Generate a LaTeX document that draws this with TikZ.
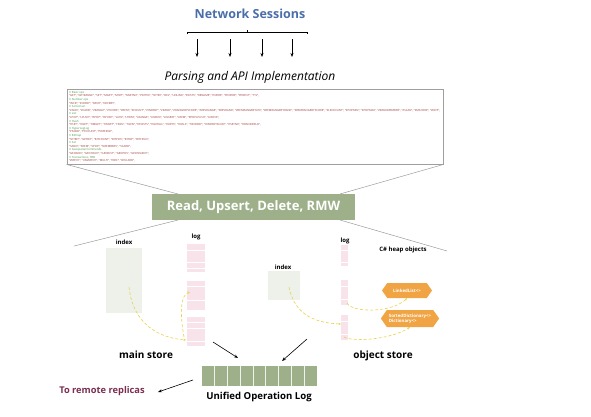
\documentclass[tikz,border=0pt]{standalone}
\usepackage{fontspec}
\setmainfont{Open Sans}
\usetikzlibrary{shapes.symbols,arrows.meta,calc}
\definecolor{netblue}{HTML}{4A6EAA}
\definecolor{opgreen}{HTML}{9DB08A}
\definecolor{idxgray}{HTML}{EDF1EA}
\definecolor{logpink}{HTML}{F7E3E9}
\definecolor{heaporange}{HTML}{F0A444}
\definecolor{ptryellow}{HTML}{E8D250}
\definecolor{replica}{HTML}{7A2E50}
\definecolor{cmtgreen}{HTML}{3C9A3C}
\definecolor{strred}{HTML}{A33A3A}
\definecolor{zoomgray}{HTML}{9A9A9A}
\newcommand{\cmtline}[1]{\textcolor{cmtgreen}{#1}\\}
\newcommand{\strline}[1]{\textcolor{strred}{#1}\\}
\begin{document}
\begin{tikzpicture}[x=1pt,y=-1pt,
  title/.style={font=\bfseries\fontsize{12.5}{14}\selectfont, text=netblue, inner sep=0},
  subtitle/.style={font=\itshape\fontsize{12}{14}\selectfont, inner sep=0},
  lbl/.style={font=\bfseries\fontsize{10}{12}\selectfont, inner sep=0},
  small/.style={font=\bfseries\fontsize{6}{7}\selectfont, inner sep=0},
  blackarrow/.style={-{Stealth[length=4pt,width=3pt]}, line width=0.6pt},
  zoomline/.style={draw=zoomgray, line width=0.5pt},
  idxbox/.style={fill=idxgray, draw=none, inner sep=0},
  logseg/.style={fill=logpink, draw=none, inner sep=0},
  heap/.style={shape=signal, signal to=east and west, signal pointer angle=110, fill=heaporange, text=white, draw=none, inner xsep=2pt, inner ysep=0pt, font=\bfseries\fontsize{4.4}{5.2}\selectfont, align=left},
  ptr/.style={draw=ptryellow, densely dashed, line width=0.6pt, -{Stealth[length=2.5pt,width=2.2pt]}}
]
\useasboundingbox (0,0) rectangle (591,416);

% title and session arrows
\node[title] (net) at (250,14) {Network Sessions};
\draw[line width=0.5pt] (187,34) -- (187,32) -- (307,32) -- (307,34);
\draw[line width=0.5pt] (247,32) -- (247,30);
\foreach \i/\x in {1/197,2/230,3/262,4/292}{
  \coordinate (s\i) at (\x,39);
  \coordinate (t\i) at (\x,57);
  \draw[blackarrow] (s\i) -- (t\i);
}
\node[subtitle] (parse) at (250,77) {Parsing and API Implementation};

% code box
\node[draw=gray!75, line width=0.9pt, fill=white, minimum width=376pt, minimum height=75pt, inner sep=0] (codebox) at (255,126.5) {};
\node[anchor=north west, inner sep=0, align=left, font=\fontsize{2.8}{3.6}\selectfont] (code) at (69,91) {%
\cmtline{// Basic ops}
\strline{"GET", "GETRANGE", "SET", "MGET", "MSET", "MSETNX", "PSETEX", "SETEX", "DEL", "UNLINK", "EXISTS", "RENAME", "EXPIRE", "PEXPIRE", "PERSIST", "TTL",}
\cmtline{// Number ops}
\strline{"INCR", "INCRBY", "DECR", "DECRBY",}
\cmtline{// Sorted set}
\strline{"ZADD", "ZCARD", "ZRANGE", "ZSCORE", "ZREM", "ZCOUNT", "ZINCRBY", "ZRANK", "ZRANGEBYSCORE", "ZREVRANGE", "ZREVRANK", "ZREMRANGEBYLEX", "ZREMRANGEBYRANK", "ZREMRANGEBYSCORE", "ZLEXCOUNT", "ZPOPMIN", "ZPOPMAX", "ZRANDMEMBER", "ZSCAN", "ZMSCORE", "ZDIFF",}
\cmtline{// List}
\strline{"LPOP", "LPUSH", "RPOP", "RPUSH", "LLEN", "LTRIM", "LRANGE", "LINDEX", "LINSERT", "LREM", "RPOPLPUSH", "LMOVE",}
\cmtline{// Hash}
\strline{"HSET", "HGET", "HMGET", "HMSET", "HDEL", "HLEN", "HEXISTS", "HGETALL", "HKEYS", "HVALS", "HINCRBY", "HINCRBYFLOAT", "HSETNX", "HRANDFIELD",}
\cmtline{// HyperLogLog}
\strline{"PFADD", "PFCOUNT", "PFMERGE",}
\cmtline{// Bitmap}
\strline{"SETBIT", "GETBIT", "BITCOUNT", "BITPOS", "BITOP", "BITFIELD",}
\cmtline{// Set}
\strline{"SADD", "SREM", "SPOP", "SMEMBERS", "SCARD",}
\cmtline{// Geospatial Commands}
\strline{"GEOADD", "GEOHASH", "GEODIST", "GEOPOS", "GEOSEARCH",}
\cmtline{// Transactions, TBD}
\strline{"WATCH", "UNWATCH", "MULTI", "EXEC", "DISCARD",}
};

% operations box
\node[fill=opgreen, minimum width=203pt, minimum height=26pt, inner sep=0, text=white, font=\bfseries\fontsize{13}{15}\selectfont] (ops) at (253.5,207) {Read, Upsert, Delete, RMW};
\coordinate (opsTL) at (178,194);
\coordinate (opsTR) at (340,194);
\coordinate (opsBL) at (178,220);
\coordinate (opsBR) at (340,220);
\coordinate (farL) at (74,246);
\coordinate (farR) at (447,251);
\draw[zoomline] (codebox.south west) -- (opsTL);
\draw[zoomline] (codebox.south east) -- (opsTR);
\draw[zoomline] (opsBL) -- (farL);
\draw[zoomline] (opsBR) -- (farR);

% main store
\node[small] (midxlbl) at (124,242) {index};
\node[idxbox, minimum width=36pt, minimum height=65pt] (midx) at (124,280.5) {};
\node[small] (mloglbl) at (196,237) {log};
\node[logseg, minimum width=18pt, minimum height=28pt] (mlog1) at (196,258) {};
\node[logseg, minimum width=18pt, minimum height=29pt] (mlog2) at (196,295.5) {};
\node[logseg, minimum width=18pt, minimum height=29pt] (mlog3) at (196,331.5) {};
\foreach \y in {250,262,268,286,300,322,328,341}{
  \draw[white, line width=0.5pt] (187,\y) -- (205,\y);
}
\coordinate (mp0) at (129,287);
\coordinate (mp1) at (186,340);
\coordinate (mp2) at (184,337);
\coordinate (mp3) at (190,292);
\draw[ptr] (mp0) .. controls (133,325) and (160,338) .. (mp1);
\draw[ptr] (mp2) .. controls (180,315) and (180,295) .. (mp3);
\node[lbl] (mainlbl) at (146,355) {main store};

% object store
\node[small] (oidxlbl) at (283,267) {index};
\node[idxbox, minimum width=32pt, minimum height=29pt] (oidx) at (284,285.5) {};
\node[small] (ologlbl) at (345,241) {log};
\node[logseg, minimum width=7pt, minimum height=21pt] (olog1) at (344.5,255.5) {};
\node[logseg, minimum width=7pt, minimum height=25pt] (olog2) at (344.5,292.5) {};
\node[logseg, minimum width=7pt, minimum height=25pt] (olog3) at (344.5,327.5) {};
\foreach \y in {250,262,286,299,321,334}{
  \draw[white, line width=0.4pt] (341,\y) -- (348,\y);
}
\node[small] (heaplbl) at (403,250) {C\# heap objects};
\node[heap, minimum width=50pt, minimum height=15pt] (hl) at (407,290.5) {LinkedList<>};
\node[heap, minimum width=54pt, minimum height=17pt] (hd) at (410,318.5) {SortedDictionary<>\\Dictionary<>};
\coordinate (op0) at (289,287);
\coordinate (op1) at (341,324);
\coordinate (op2) at (347,303);
\coordinate (op3) at (344,337);
\draw[ptr] (op0) .. controls (295,318) and (320,323) .. (op1);
\draw[ptr] (op2) .. controls (352,313) and (392,313) .. (hl.south);
\draw[ptr] (op3) .. controls (352,342) and (390,340) .. (hd.south);
\node[lbl] (objlbl) at (383,356) {object store};

% unified log
\node[fill=opgreen, minimum width=115pt, minimum height=20pt, inner sep=0] (ulog) at (259.5,376) {};
\foreach \k in {1,...,8}{
  \draw[white!85!opgreen, line width=0.6pt] ($(ulog.north west)+(\k*12.78,0)$) -- ($(ulog.south west)+(\k*12.78,0)$);
}
\node[lbl, font=\bfseries\fontsize{9.6}{11}\selectfont] (ulbl) at (259,397) {Unified Operation Log};
\coordinate (ma) at (213,342);
\coordinate (mb) at (238,358);
\coordinate (oa) at (307,339);
\coordinate (ob) at (282,361);
\draw[blackarrow] (ma) -- (mb);
\draw[blackarrow] (oa) -- (ob);
\coordinate (ra) at (193,380);
\node[font=\bfseries\fontsize{9.3}{11}\selectfont, text=replica, inner sep=0] (rep) at (102,391) {To remote replicas};
\coordinate (rb) at (158,392);
\draw[blackarrow] (ra) -- (rb);
\end{tikzpicture}
\end{document}
